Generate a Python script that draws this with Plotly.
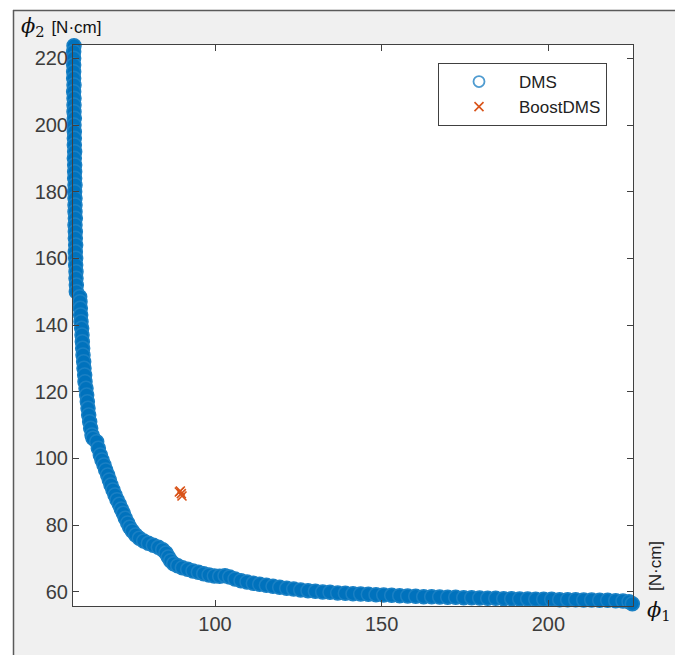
import plotly.graph_objects as go

# DMS Pareto front (phi1, phi2)
dms_x = [57.7, 57.6, 57.6, 57.6, 57.6, 57.6, 57.7, 57.6, 57.7, 57.7, 57.7, 57.8, 57.7, 57.8, 57.8, 57.8,
         57.9, 57.8, 57.9, 57.9, 57.9, 58.0, 57.9, 58.0, 58.0, 58.0, 58.1, 58.0, 58.1, 58.1, 58.2, 58.1,
         58.2, 58.2, 58.3, 58.3, 58.4, 58.4, 59.4, 59.5, 59.6, 59.7, 59.8, 60.0, 60.1, 60.2, 60.3, 60.4,
         60.6, 60.7, 60.9, 61.0, 61.3, 61.5, 61.7, 61.9, 62.1, 62.4, 62.7, 63.1, 63.4, 64.5, 65.0, 65.6,
         66.1, 66.7, 67.2, 67.8, 68.3, 68.8, 69.4, 70.0, 70.6, 71.3, 71.9, 72.5, 73.1, 73.8, 74.4, 75.2,
         76.2, 77.3, 78.6, 80.0, 81.5, 83.0, 84.3, 85.3, 86.0, 86.7, 87.6, 88.8, 90.2, 91.8, 93.4, 95.0,
         96.6, 98.2, 99.8, 101.4, 103.0, 104.4, 106.0, 107.8, 109.6, 111.5, 113.4, 115.4, 117.4, 119.4,
         121.5, 123.6, 125.7, 127.9, 130.1, 132.3, 134.5, 136.8, 139.1, 141.4, 143.7, 146.0, 148.3, 150.6,
         153.0, 155.4, 157.8, 160.2, 162.6, 165.0, 167.4, 169.8, 172.2, 174.6, 177.0, 179.4, 181.8, 184.2,
         186.6, 189.0, 191.4, 193.8, 196.2, 198.6, 201.0, 203.4, 205.8, 208.2, 210.6, 213.0, 215.4, 217.8,
         220.2, 222.4, 224.2, 225.2]
dms_y = [223.8, 222, 220, 218, 216, 214, 212, 210, 208, 206, 204, 202, 200, 198, 196, 194,
         192, 190, 188, 186, 184, 182, 180, 178, 176, 174, 172, 170, 168, 166, 164, 162,
         160, 158, 156, 154, 152, 150, 148.5, 147, 145, 143, 141, 139, 137, 135, 133, 131,
         129, 127, 125, 123, 121, 119, 117, 115, 113, 111, 109, 107, 106, 105, 103, 101,
         99.5, 98, 96.5, 95, 93.5, 92, 90.5, 89, 87.6, 86.2, 84.8, 83.5, 82, 80.6, 79.3, 78.2,
         77, 76, 75.2, 74.5, 73.9, 73.3, 72.6, 71.6, 70.4, 69.3, 68.4, 67.8, 67.2, 66.7, 66.2, 65.8,
         65.4, 65.0, 64.7, 64.6, 64.8, 64.4, 63.8, 63.3, 62.9, 62.5, 62.2, 61.9, 61.6, 61.3,
         61.0, 60.8, 60.5, 60.3, 60.1, 59.9, 59.8, 59.6, 59.5, 59.4, 59.3, 59.2, 59.1, 59.0,
         58.9, 58.8, 58.7, 58.6, 58.5, 58.5, 58.4, 58.3, 58.3, 58.2, 58.2, 58.1, 58.0, 58.0,
         57.9, 57.9, 57.8, 57.8, 57.7, 57.7, 57.7, 57.6, 57.6, 57.6, 57.5, 57.5, 57.4, 57.4,
         57.3, 57.2, 57.0, 56.4]

# BoostDMS points
boost_x = [89.3, 89.9, 90.1, 89.6]
boost_y = [89.9, 89.4, 88.7, 90.2]

x_range = [57.4, 225.4]
y_range = [55.7, 224.0]

L, R, T, B = 73, 633, 45, 606
W, H = 675, 655
pw, ph = R - L, B - T


def px(x):
    return (x - L) / pw


def py(y):
    return (B - y) / ph


BLUE = "#0072BD"
ORANGE = "#D95319"

fig = go.Figure()
# dense overlapping circles -> solid band as in the reference
fig.add_trace(go.Scatter(
    x=dms_x, y=dms_y, mode="markers", name="DMS", cliponaxis=False, showlegend=False,
    marker=dict(symbol="circle", size=14, color=BLUE, line=dict(width=1.5, color="#1a80c4")),
))
# legend entries (open circle / cross, as in the reference legend)
fig.add_trace(go.Scatter(
    x=[None], y=[None], mode="markers", name="DMS", legendrank=1,
    marker=dict(symbol="circle-open", size=11, color="#4f9bd0", line=dict(width=1.8, color="#4f9bd0")),
))
fig.add_trace(go.Scatter(
    x=boost_x, y=boost_y, mode="markers", name="BoostDMS", cliponaxis=False, legendrank=2,
    marker=dict(symbol="x-thin-open", size=9, color=ORANGE, line=dict(width=1.6, color=ORANGE)),
))

axis_common = dict(
    showline=True, linecolor="#404040", linewidth=1, mirror="ticks",
    ticks="inside", ticklen=6, tickcolor="#404040", showgrid=False, zeroline=False,
    tickfont=dict(family="Liberation Sans, Arial, sans-serif", size=20, color="#3c3c3c"),
)

fig.update_xaxes(range=x_range, dtick=50, tick0=0, **axis_common)
fig.update_yaxes(range=y_range, dtick=20, tick0=0, **axis_common)

shapes = [
    dict(type="rect", xref="paper", yref="paper", x0=px(0), x1=px(13), y0=py(W + 10), y1=py(0),
         fillcolor="white", line=dict(width=0), layer="above"),
    dict(type="rect", xref="paper", yref="paper", x0=px(0), x1=px(W + 10), y0=py(10), y1=py(0),
         fillcolor="white", line=dict(width=0), layer="above"),
    dict(type="line", xref="paper", yref="paper", x0=px(13.5), x1=px(13.5), y0=py(10), y1=py(H + 5),
         line=dict(color="#5a5a5a", width=1.5)),
    dict(type="line", xref="paper", yref="paper", x0=px(13), x1=px(W + 5), y0=py(10.5), y1=py(10.5),
         line=dict(color="#5a5a5a", width=1.5)),
]

annotations = [
    dict(xref="paper", yref="paper", x=px(19), y=py(27), xanchor="left", yanchor="middle",
         showarrow=False,
         text="<i>ϕ</i><sub>2</sub> <span style='font-family:Liberation Sans;font-size:17px'>[N·cm]</span>",
         font=dict(family="DejaVu Serif, serif", size=21, color="#111")),
    dict(xref="paper", yref="paper", x=px(645), y=py(611), xanchor="left", yanchor="middle",
         showarrow=False, text="<i>ϕ</i><sub>1</sub>",
         font=dict(family="DejaVu Serif, serif", size=21, color="#111")),
    dict(xref="paper", yref="paper", x=px(655), y=py(566), xanchor="center", yanchor="middle",
         showarrow=False, text="[N·cm]", textangle=-90,
         font=dict(family="Liberation Sans, Arial, sans-serif", size=17, color="#222")),
]

fig.update_layout(
    width=W, height=H,
    margin=dict(l=L, r=W - R, t=T, b=H - B, pad=0),
    paper_bgcolor="#f0f0f0", plot_bgcolor="white",
    showlegend=True,
    legend=dict(x=px(438), y=py(63), xanchor="left", yanchor="top",
                bgcolor="white", bordercolor="#404040", borderwidth=1,
                font=dict(family="Liberation Sans, Arial, sans-serif", size=17, color="#222"),
                itemwidth=70, tracegroupgap=0),
    shapes=shapes, annotations=annotations,
)

fig.write_html("out.html")
